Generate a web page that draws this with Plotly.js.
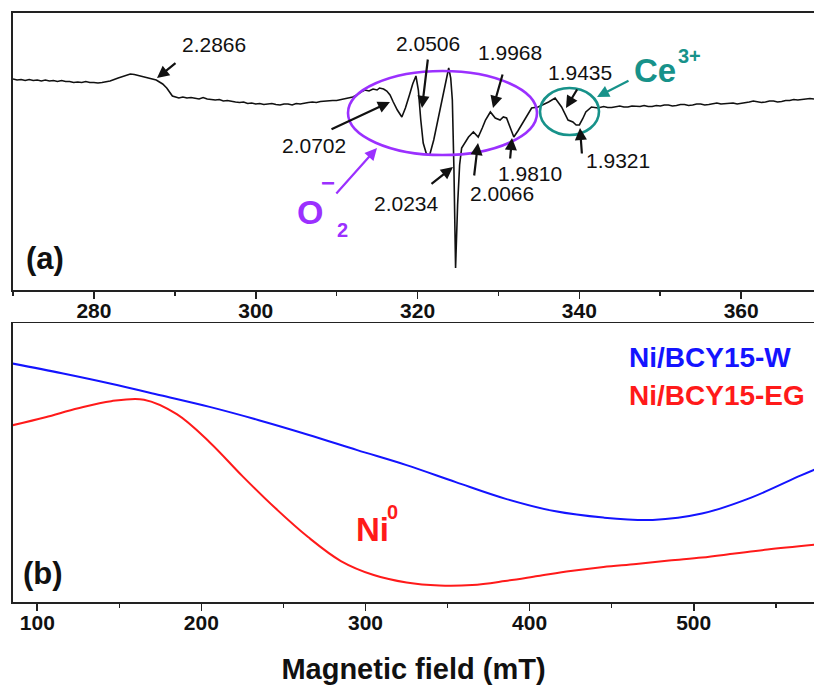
<!DOCTYPE html>
<html>
<head>
<meta charset="utf-8">
<script src="https://cdn.plot.ly/plotly-3.0.1.min.js"></script>
<style>html,body{margin:0;padding:0;background:#fff;}#chart{width:814px;height:686px;}</style>
</head>
<body>
<div id="chart"></div>
<script>
// ---- Panel (a): EPR spectrum, 270-369 mT ----
var fieldA = [270,270.5,271,271.5,272,272.5,273,273.5,274,274.5,275,275.5,276,276.5,277,277.5,278,278.5,279,279.5,280,280.5,281,281.5,282,283,284,284.5,285,286,287,287.7,288.5,289,289.7,
  290.5,291,291.5,292,292.5,293,293.5,294,294.5,295,295.5,296,296.5,297,297.5,298,298.5,299,299.5,300,300.5,301,301.5,302,302.5,303,303.5,304,304.5,305,305.5,306,306.5,307,307.5,308,308.5,309,309.5,310,310.5,311,
  311.5,312,312.5,313,313.5,314,314.5,315,315.3,315.8,316.2,316.6,317,317.5,318.06,318.5,319,319.4,319.8,320.1,320.4,320.7,321.1,321.5,322,322.5,323,323.3,323.6,323.85,324.1,324.3,324.5,324.7,324.95,325.2,325.45,325.8,326.3,326.9,327.5,328,328.4,329,329.6,330.2,330.6,331,331.5,331.9,332.4,332.9,333.5,334.1,334.9,335.5,336.2,337,337.8,338.6,339.2,339.6,340,340.4,340.8,341.5,
  342.3,343,343.5,344,344.5,345,345.5,346,346.5,347,347.5,348,348.5,349,349.5,350,350.5,351,351.5,352,352.5,353,353.5,354,354.5,355,355.5,356,356.5,357,357.5,358,358.5,359,359.5,360,360.5,361,361.5,362,362.5,363,363.5,364,364.5,365,365.5,366,366.5,367,367.5,368,368.5,369];
var signalA = [21,20,20.5,19.5,20.5,19.5,20,19,20,19,19.5,18.5,19.5,18.5,18.5,17.5,18,17.5,18.5,17.5,17.5,17,17.5,18,19,22,25,26,25.5,23.5,22,20,16,12,4,
  2,3,2,2.5,1.5,1,2.5,1,0.5,0,0.5,-1,-0.5,-1.5,-2,-2.5,-2,-3.5,-3,-4,-3.5,-4.5,-4,-3.5,-4.5,-5,-4,-4,-5,-3.5,-4,-3,-2.5,-2,-2.5,-1.5,-1,-1,-0.5,-0.5,0.5,1,
  2,3,5,8,10,9,11,10,12,11,9,5,-2,-10,-17,-8,5,16,24,10,-20,-43,-54,-55,-40,-20,0,12,25,32,22,0,-70,-168,-105,-65,-48,-43,-37,-32,-37,-28,-20,-12,-18,-20,-17,-18,-28,-37,-31,-24,-17,-8,-7,-5,-2,2,-7,-20,-22,-25,-25,-19,-12,-7,
  -8,-6.5,-7.5,-7.5,-6.5,-6,-7,-7,-6,-6,-6.5,-5.5,-6.5,-6.5,-5.5,-6,-5,-5,-6,-5.5,-4.5,-4.5,-5.5,-5,-4,-4,-5,-4.5,-3.5,-3,-4,-3.5,-3,-3,-4,-3.5,-2.5,-2,-1,-1.5,-2.5,-2,-1,-1,-2,-1.5,-0.5,-0.5,0.5,0,0.5,0.5,1.5,1];
var gLabels = ["2.2866","2.0702","2.0506","2.0234","2.0066","1.9968","1.9810","1.9435","1.9321"];

// ---- Panel (b): wide-field spectra ----
var fieldW = [85,115,145,175,205,235,265,295,325,355,385,415,445,475,505,535,565,575];
var signalW = [238.7,229,218.5,207,195.3,182,167.5,152,137,120,103.5,91,84.5,82.2,88.5,104.5,126.5,133.5];
var fieldEG = [85,105,125,145,165,185,205,225,245,265,285,305,325,345,365,385,405,425,445,465,485,505,525,545,575];
var signalEG = [177,185,194,201,202.5,188,160,126,94,65,41,27,19.5,16.5,17,21,26,31,35,38,41.5,44.5,48.5,52.5,57.5];
var seriesNames = ["Ni/BCY15-W","Ni/BCY15-EG"];

var FONT = "Liberation Sans, Arial, Helvetica, sans-serif";
var AX = "#222";

// pixel -> paper helpers (plot area: left 13, top 13, width 801, height 589)
function PX(p){ return (p-13)/801; }
function PY(p){ return (602-p)/589; }

var traces = [
  {x: fieldA, y: signalA, xaxis:'x', yaxis:'y', mode:'lines', line:{color:'#111', width:1.6}, showlegend:false, hoverinfo:'skip'},
  {x: fieldW, y: signalW, xaxis:'x2', yaxis:'y2', mode:'lines', line:{color:'#1414ff', width:2, shape:'spline', smoothing:1}, name:seriesNames[0], showlegend:false},
  {x: fieldEG, y: signalEG, xaxis:'x2', yaxis:'y2', mode:'lines', line:{color:'#ff1a1a', width:2, shape:'spline', smoothing:1}, name:seriesNames[1], showlegend:false}
];

function txt(t, cx, cy, size, color, bold, anchor){
  return {text:t, xref:'paper', yref:'paper', x:PX(cx), y:PY(cy), showarrow:false,
    xanchor:anchor||'center', yanchor:'middle',
    font:{family:FONT, size:size, color:color, weight: bold?'bold':'normal'}};
}
function arr(tx, ty, hx, hy, color){
  return {text:'', xref:'paper', yref:'paper', x:PX(hx), y:PY(hy), ax:tx-hx, ay:ty-hy,
    showarrow:true, arrowhead:2, arrowsize:1.1, arrowwidth:2.2, arrowcolor:color, standoff:0, startstandoff:0};
}

var gPos = [[214,45],[314,145],[428,43],[406,203],[502,193],[510,53],[530,173],[580,73],[618,160]];
var gArrows = [[177,62,157,78],[330,130,390,102],[428,58,422,108],[430,185,453,167],[474,177,478,143],[503,73,493,108],[510,160,512,138],[578,88,566,108],[582,155,580,128]];

var annotations = [];
for (var i=0;i<gLabels.length;i++){
  annotations.push(txt(gLabels[i], gPos[i][0], gPos[i][1], 21, '#111', false));
  var a = gArrows[i];
  annotations.push(arr(a[0],a[1],a[2],a[3],'#111'));
}
var PURPLE = '#9b30ff', TEAL = '#17928a';
annotations.push(txt('O', 310, 212, 34, PURPLE, true));
annotations.push(txt('−', 328, 182, 24, PURPLE, true));
annotations.push(txt('2', 342, 230, 20, PURPLE, true));
annotations.push(arr(335,195,377,148,PURPLE));
annotations.push(txt('Ce', 655, 70, 33, TEAL, true));
annotations.push(txt('3+', 689, 56, 20, TEAL, true));
annotations.push(arr(630,80,597,97,TEAL));
annotations.push(txt('(a)', 45, 258, 31, '#111', true));
annotations.push(txt('(b)', 43, 573, 31, '#111', true));
annotations.push(txt(seriesNames[0], 627, 357, 28, '#1414ff', true, 'left'));
annotations.push(txt(seriesNames[1], 627, 395, 28, '#ff1a1a', true, 'left'));
annotations.push(txt('Ni', 372, 529, 33, '#ff1a1a', true));
annotations.push(txt('0', 392, 512, 20, '#ff1a1a', true));

var shapes = [
  {type:'circle', xref:'paper', yref:'paper', x0:PX(348), x1:PX(537), y0:PY(155), y1:PY(71), line:{color:PURPLE, width:2.6}},
  {type:'circle', xref:'paper', yref:'paper', x0:PX(540), x1:PX(599), y0:PY(135), y1:PY(88), line:{color:TEAL, width:2.6}}
];

var tickfont = {family:FONT, size:21, color:'#111', weight:'bold'};
function xax(extra){
  var o = {showline:true, mirror:true, linecolor:AX, linewidth:1.6, ticks:'outside', ticklen:7, tickwidth:1.6, tickcolor:AX,
    tickfont:tickfont, ticklabelstandoff:-6, showgrid:false, zeroline:false, fixedrange:true};
  for (var k in extra) o[k]=extra[k];
  return o;
}
function yax(extra){
  var o = {showline:true, mirror:true, linecolor:AX, linewidth:1.6, ticks:'', showticklabels:false, showgrid:false, zeroline:false, fixedrange:true};
  for (var k in extra) o[k]=extra[k];
  return o;
}

var layout = {
  width:814, height:686,
  margin:{l:13, r:0, t:13, b:84},
  paper_bgcolor:'#fff', plot_bgcolor:'#fff',
  showlegend:false,
  xaxis: xax({anchor:'y', domain:[0,1], range:[270,369], tick0:280, dtick:20,
    minor:{dtick:10, ticks:'outside', ticklen:4, tickwidth:1.6, tickcolor:AX}}),
  yaxis: yax({anchor:'x', domain:[0.5297,1], range:[-190,87]}),
  xaxis2: xax({anchor:'y2', domain:[0,1], range:[85.2,573.3], tick0:0, dtick:100,
    minor:{dtick:50, ticks:'outside', ticklen:4, tickwidth:1.6, tickcolor:AX},
    title:{text:'Magnetic field (mT)', font:{family:FONT, size:29, color:'#111', weight:'bold'}, standoff:26}}),
  yaxis2: yax({anchor:'x2', domain:[0,0.4732], range:[0,279]}),
  annotations: annotations,
  shapes: shapes
};

Plotly.newPlot('chart', traces, layout, {displayModeBar:false, staticPlot:true});
</script>
</body>
</html>
